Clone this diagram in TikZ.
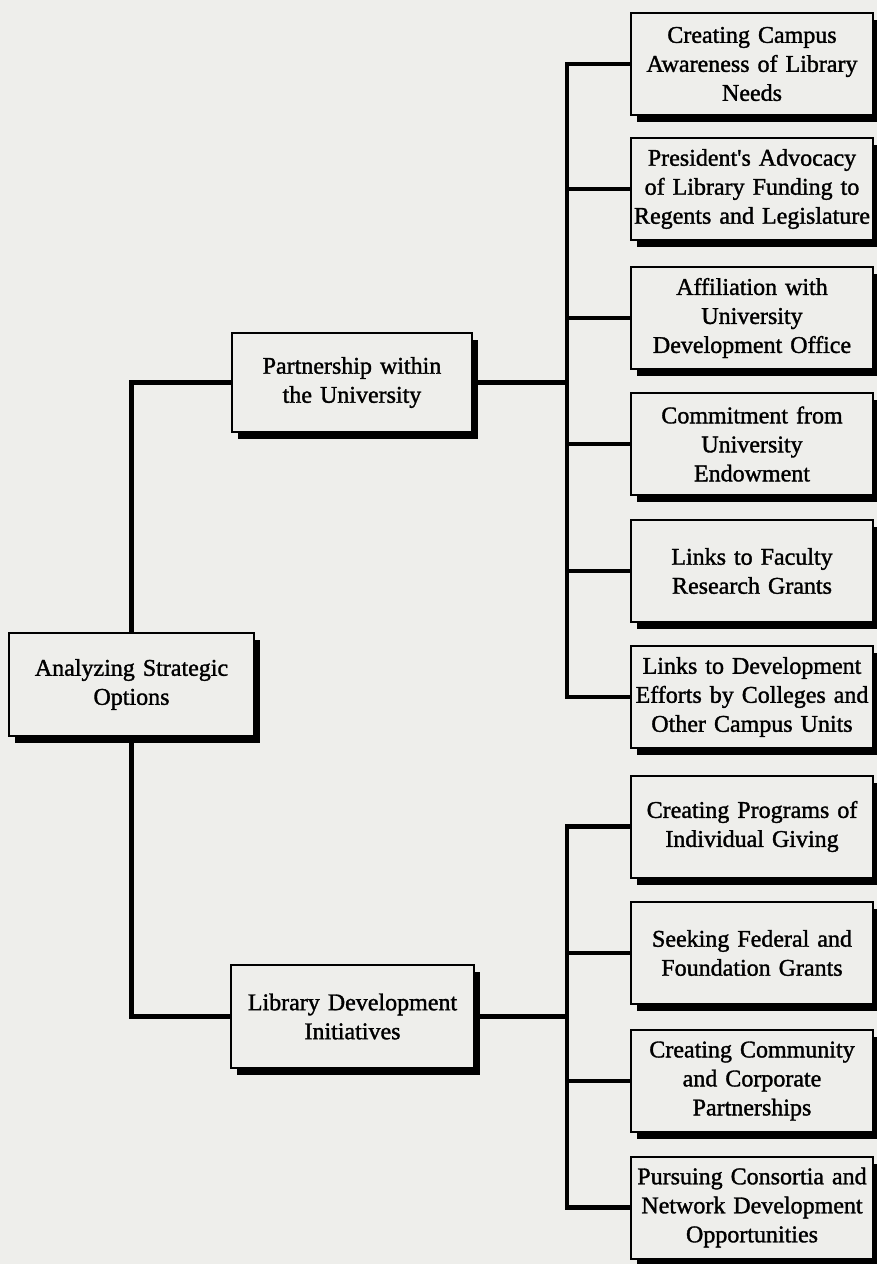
\documentclass[tikz,border=0pt]{standalone}
\usepackage{fontspec}
\setmainfont{Liberation Serif}
\newfontfamily\boxfont{Liberation Serif}[FakeBold=1.4, WordSpace=0.72]
\usetikzlibrary{shadows}
\definecolor{paper}{RGB}{238,238,235}
\begin{document}
\begin{tikzpicture}[x=1pt,y=1pt,
  box/.style={rectangle, draw=black, line width=2pt, fill=paper,
    minimum width=242pt, minimum height=102pt, inner sep=0pt,
    text width=238pt, align=center,
    font=\boxfont\fontsize{24}{29}\selectfont,
    drop shadow={shadow xshift=6pt, shadow yshift=-7pt, opacity=1, fill=black}},
  link/.style={line width=4.5pt, draw=black}]
\fill[paper] (0,0) rectangle (877,-1264);
\useasboundingbox (0,0) rectangle (877,-1264);

% root and the two branches
\node[box, minimum width=245pt, minimum height=103pt] (root) at (131.5,-684.5) {Analyzing Strategic\\Options};
\node[box, minimum width=240pt, minimum height=99pt] (part) at (352,-382.5) {Partnership within\\the University};
\node[box, minimum width=243pt, minimum height=103pt] (lib) at (352.5,-1016.5) {Library Development\\Initiatives};

% leaves of the first branch
\node[box] (a1) at (752,-64) {Creating Campus\\Awareness of Library\\Needs};
\node[box] (a2) at (752,-189) {President's Advocacy\\of Library Funding to\\Regents and Legislature};
\node[box] (a3) at (752,-318) {Affiliation with\\University\\Development Office};
\node[box] (a4) at (752,-444) {Commitment from\\University\\Endowment};
\node[box] (a5) at (752,-571) {Links to Faculty\\Research Grants};
\node[box] (a6) at (752,-697) {Links to Development\\Efforts by Colleges and\\Other Campus Units};

% leaves of the second branch
\node[box] (b1) at (752,-826.5) {Creating Programs of\\Individual Giving};
\node[box] (b2) at (752,-953) {Seeking Federal and\\Foundation Grants};
\node[box] (b3) at (752,-1081) {Creating Community\\and Corporate\\Partnerships};
\node[box] (b4) at (752,-1207.5) {Pursuing Consortia and\\Network Development\\Opportunities};

% connectors
\coordinate (ta) at (567,-382.5);
\coordinate (tb) at (567,-1016.5);
\draw[link] (root.north) |- (part.west);
\draw[link] (root.south) |- (lib.west);
\draw[link] (part.east) -- (ta);
\draw[link] (lib.east) -- (tb);
\foreach \n in {a1,a2,a3,a4,a5,a6}{\draw[link] (ta) |- (\n.west);}
\foreach \n in {b1,b2,b3,b4}{\draw[link] (tb) |- (\n.west);}
\end{tikzpicture}
\end{document}
